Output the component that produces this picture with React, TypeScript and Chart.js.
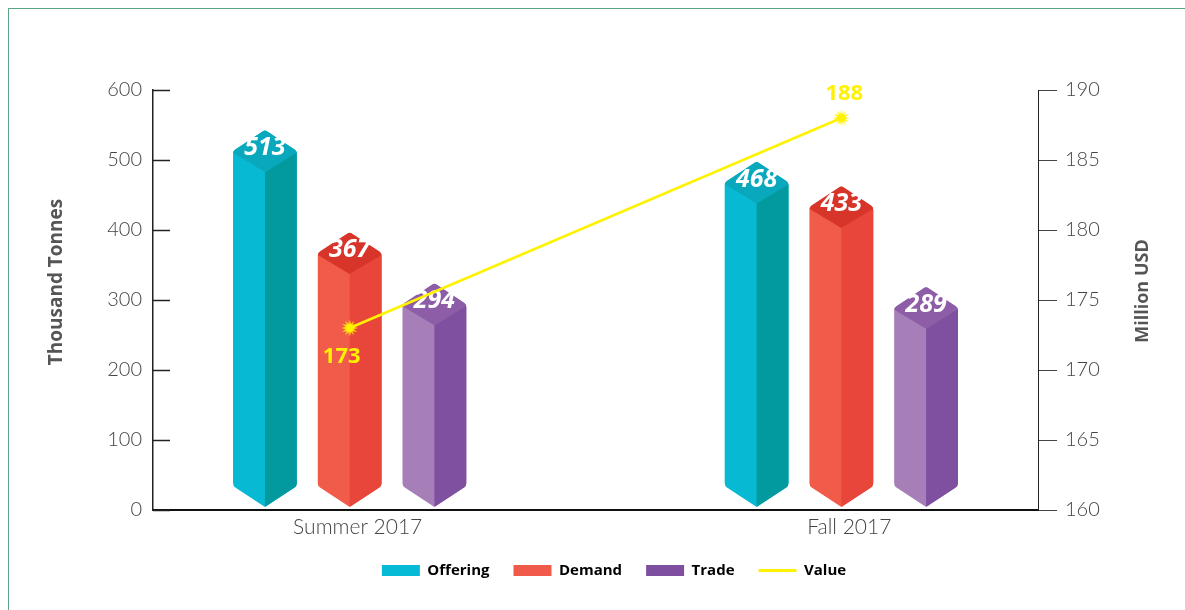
import React, { useEffect, useRef } from "react";
import { Chart, registerables } from "chart.js";

Chart.register(...registerables);

// ---------- data ----------
const categories = ["Summer 2017", "Fall 2017"];
const offering = [513, 468];
const demand = [367, 433];
const trade = [294, 289];
const value = [173, 188];
const seriesNames = ["Offering", "Demand", "Trade", "Value"];
const leftTickValues = [0, 100, 200, 300, 400, 500, 600];
const rightTickValues = [160, 165, 170, 175, 180, 185, 190];

// ---------- styles ----------
const PALETTES = [
  { left: "#08B9D3", right: "#039A9F", top: "#0AA8BC", legend: "#06B9D4" },
  { left: "#F15B4A", right: "#E8463B", top: "#D7342A", legend: "#F05A4A" },
  { left: "#A67EB8", right: "#7F50A0", top: "#8D5DA8", legend: "#7E4FA0" },
];
const YELLOW = "#FFF200";
const FRAME = "#5BA585";
const TICK_COLOR = "#444";
const TITLE_COLOR = "#555";
const valueLabelSide = ["below", "above"];

function makeStar(): HTMLCanvasElement {
  const c = document.createElement("canvas");
  c.width = 20;
  c.height = 20;
  const g = c.getContext("2d")!;
  const spikes = 12;
  const outer = 8.5;
  const inner = 4;
  g.beginPath();
  for (let i = 0; i < spikes * 2; i++) {
    const r = i % 2 === 0 ? outer : inner;
    const a = (Math.PI * i) / spikes - Math.PI / 2;
    const x = 10 + r * Math.cos(a);
    const y = 10 + r * Math.sin(a);
    if (i === 0) g.moveTo(x, y);
    else g.lineTo(x, y);
  }
  g.closePath();
  g.fillStyle = YELLOW;
  g.fill();
  return c;
}

function roundedPoly(ctx: CanvasRenderingContext2D, pts: number[][], radii: number[]) {
  const n = pts.length;
  const last = pts[n - 1];
  const first = pts[0];
  ctx.beginPath();
  ctx.moveTo((last[0] + first[0]) / 2, (last[1] + first[1]) / 2);
  for (let i = 0; i < n; i++) {
    const p = pts[i];
    const q = pts[(i + 1) % n];
    ctx.arcTo(p[0], p[1], q[0], q[1], radii[i]);
  }
  ctx.closePath();
}

function drawPrism(ctx: CanvasRenderingContext2D, cx: number, top: number, base: number, w: number, pal: any) {
  const hw = w / 2;
  const d = 21;
  const sideBottom = base - 24;
  const apexBottom = base - 3;
  const pts = [
    [cx, top - d],
    [cx + hw, top],
    [cx + hw, sideBottom],
    [cx, apexBottom],
    [cx - hw, sideBottom],
    [cx - hw, top],
  ];
  ctx.save();
  roundedPoly(ctx, pts, [3, 5, 5, 2, 5, 5]);
  ctx.fillStyle = pal.left;
  ctx.fill();
  ctx.clip();
  ctx.beginPath();
  ctx.moveTo(cx, top + d);
  ctx.lineTo(cx + hw + 3, top - 1);
  ctx.lineTo(cx + hw + 3, base + 5);
  ctx.lineTo(cx, base + 5);
  ctx.closePath();
  ctx.fillStyle = pal.right;
  ctx.fill();
  ctx.beginPath();
  ctx.moveTo(cx, top - d - 3);
  ctx.lineTo(cx + hw + 3, top);
  ctx.lineTo(cx, top + d);
  ctx.lineTo(cx - hw - 3, top);
  ctx.closePath();
  ctx.fillStyle = pal.top;
  ctx.fill();
  ctx.restore();
}

const prismPlugin = {
  id: "prism",
  beforeDatasetDraw(chart: any, args: any) {
    const meta = args.meta;
    if (meta.type !== "bar") return;
    const ctx = chart.ctx as CanvasRenderingContext2D;
    const pal = PALETTES[args.index];
    const ds = chart.data.datasets[args.index];
    meta.data.forEach((el: any, i: number) => {
      const p = el.getProps(["x", "y", "base", "width"], true);
      drawPrism(ctx, p.x, p.y, p.base, p.width, pal);
      ctx.save();
      ctx.fillStyle = "#FFFFFF";
      ctx.font = "italic bold 25px 'Open Sans'";
      ctx.textAlign = "center";
      ctx.textBaseline = "middle";
      ctx.fillText(String(ds.data[i].y), p.x, p.y - 3);
      ctx.restore();
    });
    return false;
  },
  afterDatasetsDraw(chart: any) {
    const ctx = chart.ctx as CanvasRenderingContext2D;
    const area = chart.chartArea;
    const lineIndex = chart.data.datasets.findIndex((d: any) => d.type === "line");
    const lineMeta = chart.getDatasetMeta(lineIndex);
    ctx.save();
    ctx.fillStyle = YELLOW;
    ctx.font = "bold 22px 'Open Sans'";
    ctx.textAlign = "center";
    ctx.textBaseline = "middle";
    lineMeta.data.forEach((pt: any, i: number) => {
      const v = chart.data.datasets[lineIndex].data[i].y;
      if (valueLabelSide[i] === "below") ctx.fillText(String(v), pt.x - 8, pt.y + 29);
      else ctx.fillText(String(v), pt.x + 3, pt.y - 24);
    });
    ctx.restore();

    const ys = chart.scales.y;
    ctx.save();
    ctx.strokeStyle = "#222";
    ctx.lineWidth = 1.5;
    ys.ticks.forEach((t: any) => {
      const yy = Math.round(ys.getPixelForValue(t.value)) + 0.5;
      ctx.beginPath();
      ctx.moveTo(area.left, yy);
      ctx.lineTo(area.left + 17, yy);
      ctx.stroke();
    });
    ctx.restore();
  },
  afterDraw(chart: any) {
    const ctx = chart.ctx as CanvasRenderingContext2D;
    const area = chart.chartArea;
    const midY = (area.top + area.bottom) / 2;
    ctx.save();
    ctx.fillStyle = TITLE_COLOR;
    ctx.font = "bold 19px 'Open Sans'";
    ctx.textAlign = "center";
    ctx.textBaseline = "middle";
    ctx.translate(area.left - 96, midY - 18);
    ctx.rotate(-Math.PI / 2);
    ctx.fillText("Thousand Tonnes", 0, 0);
    ctx.restore();
    ctx.save();
    ctx.fillStyle = TITLE_COLOR;
    ctx.font = "bold 18px 'Open Sans'";
    ctx.textAlign = "center";
    ctx.textBaseline = "middle";
    ctx.translate(area.right + 105, midY - 9);
    ctx.rotate(-Math.PI / 2);
    ctx.fillText("Million USD", 0, 0);
    ctx.restore();
  },
};

export default function App() {
  const ref = useRef<HTMLCanvasElement | null>(null);

  useEffect(() => {
    if (!ref.current) return;
    const star = makeStar();
    const toXY = (arr: number[]) => arr.map((v, i) => ({ x: i, y: v }));
    const barCommon = {
      type: "bar" as const,
      yAxisID: "y",
      order: 1,
      categoryPercentage: 0.517,
      barPercentage: 0.753,
    };
    const tickFont = { family: "Lato", size: 20, weight: 300 as any };

    const chart = new Chart(ref.current, {
      type: "bar",
      data: {
        datasets: [
          { ...barCommon, label: seriesNames[0], data: toXY(offering), backgroundColor: PALETTES[0].legend },
          { ...barCommon, label: seriesNames[1], data: toXY(demand), backgroundColor: PALETTES[1].legend },
          { ...barCommon, label: seriesNames[2], data: toXY(trade), backgroundColor: PALETTES[2].legend },
          {
            type: "line" as const,
            label: seriesNames[3],
            data: toXY(value),
            yAxisID: "y1",
            order: 0,
            borderColor: YELLOW,
            backgroundColor: YELLOW,
            borderWidth: 2.5,
            pointStyle: star as any,
            pointRadius: 8,
            fill: false,
            tension: 0,
          } as any,
        ],
      },
      options: {
        animation: false,
        responsive: false,
        devicePixelRatio: 1,
        layout: { padding: { left: 34, right: 0, top: 81, bottom: 21 } },
        plugins: {
          tooltip: { enabled: false },
          legend: {
            position: "bottom",
            labels: {
              usePointStyle: true,
              pointStyleWidth: 38,
              boxHeight: 11,
              padding: 24,
              color: TITLE_COLOR,
              font: { family: "'Open Sans'", size: 15, weight: "bold" },
              generateLabels: () =>
                seriesNames.map((name, i) =>
                  i < 3
                    ? {
                        text: name,
                        fillStyle: PALETTES[i].legend,
                        strokeStyle: PALETTES[i].legend,
                        lineWidth: 0,
                        pointStyle: "rect",
                        hidden: false,
                        datasetIndex: i,
                      }
                    : {
                        text: name,
                        fillStyle: YELLOW,
                        strokeStyle: YELLOW,
                        lineWidth: 3,
                        pointStyle: "line",
                        hidden: false,
                        datasetIndex: i,
                      }
                ) as any,
            },
          },
        },
        scales: {
          x: {
            type: "linear",
            min: -0.4,
            max: 1.4,
            offset: false,
            afterBuildTicks: (s: any) => {
              s.ticks = categories.map((_, i) => ({ value: i }));
            },
            afterFit: (s: any) => {
              s.height = 29;
            },
            ticks: {
              callback: (v: any) => categories[v] ?? "",
              font: { family: "Lato", size: 21, weight: 300 as any },
              color: TICK_COLOR,
              padding: 5,
              labelOffset: 8,
              autoSkip: false,
              maxRotation: 0,
            },
            grid: { display: false, drawTicks: false, offset: false },
            border: { display: true, color: "#111", width: 2 },
          },
          y: {
            position: "left",
            min: 0,
            max: 600,
            afterBuildTicks: (s: any) => {
              s.ticks = leftTickValues.map((v) => ({ value: v }));
            },
            afterFit: (s: any) => {
              s.width = 110;
            },
            ticks: { font: tickFont, color: TICK_COLOR, padding: 11 },
            grid: { display: false, drawTicks: false },
            border: { display: true, color: "#222", width: 1.5 },
          },
          y1: {
            position: "right",
            min: 160,
            max: 190,
            afterBuildTicks: (s: any) => {
              s.ticks = rightTickValues.map((v) => ({ value: v }));
            },
            afterFit: (s: any) => {
              s.width = 147;
            },
            ticks: { font: tickFont, color: TICK_COLOR, padding: 8 },
            grid: { drawOnChartArea: false, drawTicks: true, tickLength: 19, color: "#444", lineWidth: 1 },
            border: { display: true, color: "#222", width: 1 },
          },
        },
      } as any,
      plugins: [prismPlugin],
    });
    return () => chart.destroy();
  }, []);

  return (
    <div
      style={{
        position: "absolute",
        left: 8,
        top: 8,
        width: 1177,
        height: 602,
        boxSizing: "border-box",
        borderTop: `1px solid ${FRAME}`,
        borderLeft: `1px solid ${FRAME}`,
        background: "#fff",
      }}
    >
      <canvas ref={ref} width={1176} height={600} style={{ display: "block", width: 1176, height: 600 }} />
    </div>
  );
}
